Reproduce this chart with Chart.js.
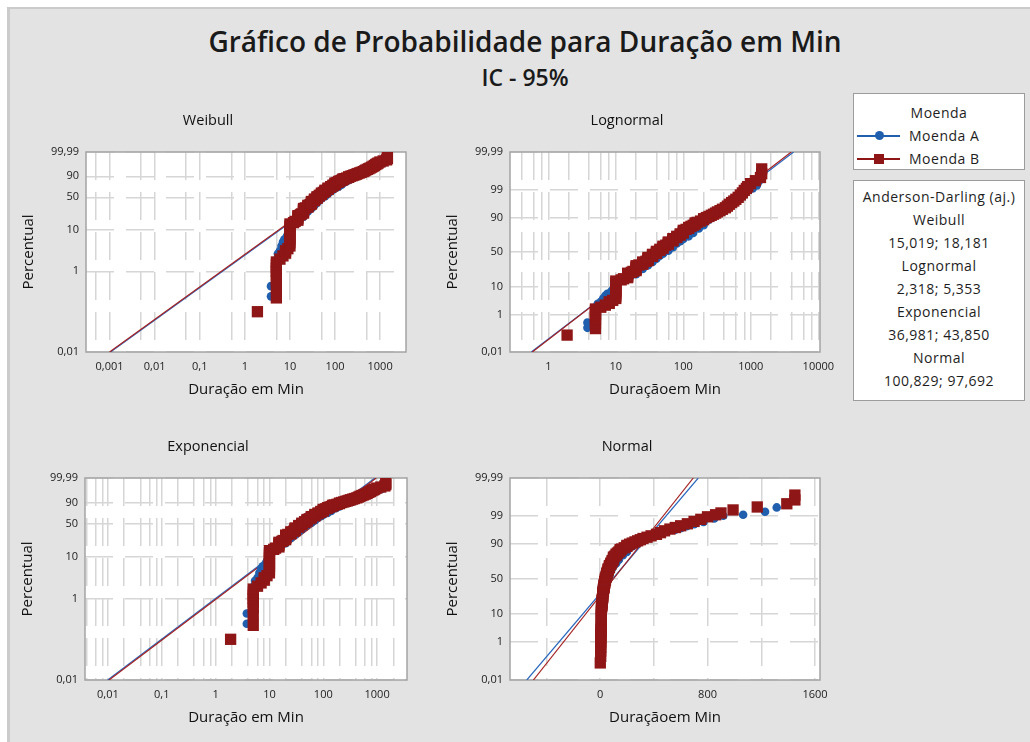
<!DOCTYPE html>
<html lang="pt">
<head>
<meta charset="utf-8">
<title>Gráfico de Probabilidade para Duração em Min</title>
<script src="https://cdn.jsdelivr.net/npm/chart.js@4/dist/chart.umd.min.js"></script>
<style>
  html, body { margin: 0; padding: 0; background: #fff; }
  body { width: 1030px; height: 742px; position: relative; overflow: hidden; font-family: 'Open Sans', sans-serif; }
  #frame { position: absolute; left: 7px; top: 7px; right: 0; bottom: 0; background: #e3e3e3;
           border-left: 3px solid #cbcbcb; border-top: 2px solid #cbcbcb; }
  canvas { position: absolute; }
  #title { position: absolute; left: 0; width: 1050px; top: 22px; text-align: center;
           font-size: 28px; line-height: 38px; font-weight: 600; color: #1a1a1a; }
  #subtitle { position: absolute; left: 0; width: 1050px; top: 62px; text-align: center;
              font-size: 23px; line-height: 30px; font-weight: 600; color: #1a1a1a; }
  .box { position: absolute; left: 853px; width: 172px; background: #fff; border: 1px solid #9c9c9c;
         font-size: 14px; letter-spacing: 0.5px; color: #1e1e1e; line-height: 23px; }
  #legendBox { top: 93px; height: 77px; padding-top: 7px; box-sizing: border-box; }
  #legendBox .head { text-align: center; }
  #legendBox .row { padding-left: 3px; white-space: nowrap; }
  #adBox { top: 180px; height: 221px; padding-top: 4px; box-sizing: border-box; text-align: center; }
  .key { position: relative; display: inline-block; width: 43px; height: 12px; margin-right: 9px; vertical-align: -1px; }
  .key::before { content: ''; position: absolute; left: 0; right: 0; top: 5px; height: 1.5px; background: currentColor; }
  .key::after { content: ''; position: absolute; left: 17px; top: 1px; width: 10px; height: 10px; background: currentColor; }
  .key-a { color: #1f5fae; }
  .key-a::after { border-radius: 50%; left: 18px; width: 9px; height: 9px; }
  .key-b { color: #8f1616; }
</style>
</head>
<body>
<div id="frame"></div>
<div id="title">Gráfico de Probabilidade para Duração em Min</div>
<div id="subtitle">IC - 95%</div>

<canvas id="weibull" width="410" height="310" style="left:10px; top:100px"></canvas>
<canvas id="lognormal" width="410" height="310" style="left:434px; top:100px"></canvas>
<canvas id="exponencial" width="410" height="312" style="left:9px; top:426px"></canvas>
<canvas id="normal" width="410" height="312" style="left:434px; top:426px"></canvas>

<div class="box" id="legendBox">
  <div class="head">Moenda</div>
  <div class="row"><span class="key key-a"></span>Moenda A</div>
  <div class="row"><span class="key key-b"></span>Moenda B</div>
</div>
<div class="box" id="adBox"></div>

<script>
// Stoppage durations (min) and plotting percentile of each one, per mill.
// Tied durations (5, 10, 15 ... min) stack up as vertical runs.
const moendaA_min = [3.8, 3.8, 5, 5, 5, 5, 5, 5.4, 6, 6.5, 7, 7.5, 8.5, 9,
  10, 10, 10, 10, 12, 15, 15, 15, 17, 20, 20, 20, 20, 25, 25, 25, 30, 30, 30, 35, 35, 35,
  40, 40, 40, 45, 45, 50, 50, 50, 60, 60, 60, 70, 70, 70, 80, 80, 90, 90, 100, 100,
  120, 120, 140, 140, 170, 200, 200, 240, 280, 330, 400, 450, 500, 560, 600, 645,
  700, 770, 850, 917, 1065, 1228, 1315];
const moendaA_pct = [0.24, 0.43, 0.65, 0.9, 1.2, 1.5, 1.9, 2.7, 3.2, 4.2, 5.2, 6.0, 7.0, 8.0,
  9, 10.5, 12, 13.5, 14.5, 15.5, 17, 18.5, 19.5, 20.5, 22, 23.5, 25, 26.5, 28, 29.5, 31, 32.5, 34, 35.5, 37, 38.5,
  40, 41.5, 43, 44.5, 46, 47.5, 49, 50.5, 52, 53.5, 55, 57, 59, 61, 62.5, 64, 65.5, 67, 68.5, 70,
  72, 74, 76, 78, 81, 84, 86, 88.5, 90.5, 92.5, 94.3, 95.2, 96, 96.5, 96.9, 97.4,
  97.8, 98.2, 98.7, 99.0, 99.1, 99.34, 99.58];

const moendaB_min = [1.9, 5, 5, 5, 5, 5, 5, 5, 5, 6, 7, 8, 8, 9,
  10, 10, 10, 10, 10, 10, 10, 10, 10, 12, 13, 15, 15, 15, 15, 17, 18, 20, 20, 20, 20, 20, 22,
  25, 25, 25, 28, 30, 30, 30, 30, 35, 35, 35, 40, 40, 40, 45, 45, 50, 50, 50, 55, 60, 60, 60,
  70, 70, 70, 80, 80, 90, 90, 100, 100, 100, 110, 120, 120, 130, 140, 150, 150, 160, 180, 200, 200,
  220, 240, 260, 280, 300, 320, 350, 380, 420, 450, 480, 520, 560, 600, 650, 700, 750, 800, 860,
  900, 990, 1170, 1390, 1450, 1450];
const moendaB_pct = [0.10, 0.22, 0.40, 0.60, 0.80, 1.0, 1.2, 1.45, 1.7, 2.0, 2.4, 2.8, 3.2, 3.6,
  4.2, 5.0, 6.0, 7.0, 8.2, 9.5, 11, 12.5, 14, 15, 16, 17, 18.5, 20, 21.5, 22.5, 23.5, 24.5, 26, 27.5, 29, 30.5, 31.5,
  32.5, 34, 35.5, 36.5, 37.5, 39, 40.5, 42, 43.5, 45, 46.5, 48, 49.5, 51, 52.5, 54, 55.5, 57, 58.5, 60, 61.5, 63, 64.5,
  66, 67.5, 69, 70.5, 72, 73.5, 75, 76, 77.5, 79, 80, 81, 82, 83, 84, 85, 86, 86.5, 87.5, 88.5, 89.2,
  90, 90.7, 91.4, 92, 92.6, 93.2, 93.8, 94.4, 95, 95.6, 96.2, 96.7, 97.1, 97.5, 97.9, 98.3, 98.6, 98.9, 99.1,
  99.25, 99.45, 99.6, 99.72, 99.82, 99.9];

// Fitted lines, end points as [duration] and [percentile]
const weibullFitA_min = [0.00105, 1500];
const weibullFitA_pct = [0.01, 99.99];
const weibullFitB_min = [0.001, 1400];
const weibullFitB_pct = [0.01, 99.99];
const lognormalFitA_min = [0.56, 4300];
const lognormalFitA_pct = [0.01, 99.99];
const lognormalFitB_min = [0.58, 3970];
const lognormalFitB_pct = [0.01, 99.99];
const exponencialFitA_min = [0.0099, 910];
const exponencialFitA_pct = [0.01, 99.99];
const exponencialFitB_min = [0.0105, 965];
const exponencialFitB_pct = [0.01, 99.99];
const normalFitA_min = [-545, 731];
const normalFitA_pct = [0.01, 99.99];
const normalFitB_min = [-496, 694];
const normalFitB_pct = [0.01, 99.99];

// Axis ticks
const weibullYTicks = [0.01, 1, 10, 50, 90, 99.99];
const normalYTicks = [0.01, 1, 10, 50, 90, 99, 99.99];
const weibullXTicks = [0.001, 0.01, 0.1, 1, 10, 100, 1000];
const weibullXGrid = [0.0005, 0.001, 0.005, 0.01, 0.05, 0.1, 0.5, 1, 5, 10, 50, 100, 500, 1000];
const lognormalXTicks = [1, 10, 100, 1000, 10000];
const lognormalXGrid = [0.4, 0.6, 0.8, 1, 2, 4, 6, 8, 10, 20, 40, 60, 80, 100, 200, 400, 600, 800, 1000,
  2000, 4000, 6000, 8000, 10000];
const exponencialXTicks = [0.01, 0.1, 1, 10, 100, 1000];
const exponencialXGrid = [0.004, 0.006, 0.008, 0.01, 0.02, 0.04, 0.06, 0.08, 0.1, 0.2, 0.4, 0.6, 0.8, 1, 2, 4,
  6, 8, 10, 20, 40, 60, 80, 100, 200, 400, 600, 800, 1000, 2000];
const normalXTicks = [0, 800, 1600];
const normalXGrid = [-400, 0, 400, 800, 1200, 1600];

// Anderson-Darling (adjusted) per distribution: Moenda A; Moenda B
const adDistributions = ['Weibull', 'Lognormal', 'Exponencial', 'Normal'];
const adMoendaA = ['15,019', '2,318', '36,981', '100,829'];
const adMoendaB = ['18,181', '5,353', '43,850', '97,692'];

const RED = '#8f1616';
const BLUE = '#1f5fae';
const FONT = "'Open Sans', sans-serif";

// Inverse of the standard normal CDF (Acklam)
function normInv(p) {
  const a = [-39.69683028665376, 220.9460984245205, -275.9285104469687, 138.3577518672690, -30.66479806614716, 2.506628277459239];
  const b = [-54.47609879822406, 161.5858368580409, -155.6989798598866, 66.80131188771972, -13.28068155288572];
  const c = [-0.007784894002430293, -0.3223964580411365, -2.400758277161838, -2.549732539343734, 4.374664141464968, 2.938163982698783];
  const d = [0.007784695709041462, 0.3224671290700398, 2.445134137142996, 3.754408661907416];
  const lo = 0.02425;
  let q, r;
  if (p < lo) {
    q = Math.sqrt(-2 * Math.log(p));
    return (((((c[0] * q + c[1]) * q + c[2]) * q + c[3]) * q + c[4]) * q + c[5]) / ((((d[0] * q + d[1]) * q + d[2]) * q + d[3]) * q + 1);
  }
  if (p <= 1 - lo) {
    q = p - 0.5; r = q * q;
    return (((((a[0] * r + a[1]) * r + a[2]) * r + a[3]) * r + a[4]) * r + a[5]) * q / (((((b[0] * r + b[1]) * r + b[2]) * r + b[3]) * r + b[4]) * r + 1);
  }
  q = Math.sqrt(-2 * Math.log(1 - p));
  return -(((((c[0] * q + c[1]) * q + c[2]) * q + c[3]) * q + c[4]) * q + c[5]) / ((((d[0] * q + d[1]) * q + d[2]) * q + d[3]) * q + 1);
}

// Probability paper: percent -> linear position
const PAPER = {
  weibull: p => Math.log(-Math.log(1 - p / 100)),
  normal: p => normInv(p / 100)
};

class ProbabilityScale extends Chart.Scale {
  static id = 'probability';
  static defaults = {};
  determineDataLimits() {
    this.min = this.options.min;
    this.max = this.options.max;
  }
  buildTicks() {
    return this.options.probTicks.map(v => ({ value: v }));
  }
  configure() {
    super.configure();
    const f = PAPER[this.options.paper];
    this._tStart = f(this.min);
    this._tRange = f(this.max) - this._tStart;
  }
  getLabelForValue(v) { return fmt(v); }
  getPixelForValue(v) {
    const f = PAPER[this.options.paper];
    return this.getPixelForDecimal((f(v) - this._tStart) / this._tRange);
  }
  getValueForPixel() { return null; }
}
Chart.register(ProbabilityScale);

function fmt(v) { return String(v).replace('.', ','); }
function pairs(xs, ys) { return xs.map((x, i) => ({ x: x, y: ys[i] })); }

// White plot area with a grey box around it
const plotFrame = {
  id: 'plotFrame',
  beforeDraw(chart) {
    const { ctx, chartArea: a } = chart;
    ctx.save();
    ctx.fillStyle = '#fff';
    ctx.fillRect(a.left, a.top, a.right - a.left, a.bottom - a.top);
    ctx.restore();
  },
  beforeDatasetsDraw(chart) {
    const { ctx, chartArea: a } = chart;
    ctx.save();
    ctx.strokeStyle = '#a4a4a4';
    ctx.lineWidth = 1.5;
    ctx.strokeRect(a.left, a.top, a.right - a.left, a.bottom - a.top);
    ctx.restore();
  }
};

function buildPanel(p) {
  const labelled = p.xTicks;
  return new Chart(document.getElementById(p.id), {
    type: 'scatter',
    data: {
      datasets: [
        { label: 'Moenda B', data: pairs(moendaB_min, moendaB_pct), pointStyle: 'rect', pointRadius: 8,
          backgroundColor: RED, borderWidth: 0, order: 1 },
        { label: 'Moenda A', data: pairs(moendaA_min, moendaA_pct), pointStyle: 'circle', pointRadius: 4.3,
          backgroundColor: BLUE, borderWidth: 0, order: 2 },
        { type: 'line', label: 'Ajuste B', data: pairs(p.fitB[0], p.fitB[1]), borderColor: '#a42222',
          borderWidth: 1.2, pointRadius: 0, order: 3 },
        { type: 'line', label: 'Ajuste A', data: pairs(p.fitA[0], p.fitA[1]), borderColor: '#2a68bd',
          borderWidth: 1.2, pointRadius: 0, order: 4 }
      ]
    },
    options: {
      responsive: false,
      animation: false,
      events: [],
      layout: { padding: { left: 0, right: p.padRight, top: 0, bottom: 0 } },
      plugins: {
        legend: { display: false },
        tooltip: { enabled: false },
        title: {
          display: true, text: p.title, color: '#111',
          font: { family: FONT, size: 14.5, weight: '400' },
          padding: { top: 12, bottom: 22.6 }
        }
      },
      scales: {
        x: {
          type: p.xType, min: p.xMin, max: p.xMax,
          afterBuildTicks: s => { s.ticks = p.xGrid.map(v => ({ value: v })); },
          afterFit: s => { s.height = 58; },
          ticks: {
            autoSkip: false, maxRotation: 0, padding: 8, color: '#222',
            font: { family: FONT, size: 11 },
            callback: v => labelled.some(t => Math.abs(t - v) <= Math.abs(t) * 1e-9) ? fmt(v) : ''
          },
          grid: { color: '#d6d6d6', lineWidth: 1.5, drawTicks: false },
          border: { display: false, dash: [28, 12] },
          title: {
            display: true, text: p.xTitle, color: '#111',
            font: { family: FONT, size: 15 }, padding: { top: 0, bottom: 11 }
          }
        },
        y: {
          type: 'probability', paper: p.paper, probTicks: p.yTicks, min: 0.01, max: 99.99,
          afterFit: s => { s.width = 76; },
          ticks: {
            autoSkip: false, padding: 7, color: '#222',
            font: { family: FONT, size: 11 },
            callback: v => fmt(v)
          },
          grid: { color: '#d6d6d6', lineWidth: 1.5, drawTicks: false },
          border: { display: false, dash: [28, 12] },
          title: {
            display: true, text: 'Percentual', color: '#111',
            font: { family: FONT, size: 15 }, padding: { top: 10, bottom: 0 }
          }
        }
      }
    },
    plugins: [plotFrame]
  });
}

const panels = [
  { id: 'weibull', title: 'Weibull', paper: 'weibull', yTicks: weibullYTicks, xTitle: 'Duração em Min',
    xType: 'logarithmic', xMin: 0.000322, xMax: 3750, xTicks: weibullXTicks, xGrid: weibullXGrid,
    fitA: [weibullFitA_min, weibullFitA_pct], fitB: [weibullFitB_min, weibullFitB_pct], padRight: 14 },
  { id: 'lognormal', title: 'Lognormal', paper: 'normal', yTicks: normalYTicks, xTitle: 'Duraçãoem Min',
    xType: 'logarithmic', xMin: 0.271, xMax: 10590, xTicks: lognormalXTicks, xGrid: lognormalXGrid,
    fitA: [lognormalFitA_min, lognormalFitA_pct], fitB: [lognormalFitB_min, lognormalFitB_pct], padRight: 24 },
  { id: 'exponencial', title: 'Exponencial', paper: 'weibull', yTicks: weibullYTicks, xTitle: 'Duração em Min',
    xType: 'logarithmic', xMin: 0.00375, xMax: 3590, xTicks: exponencialXTicks, xGrid: exponencialXGrid,
    fitA: [exponencialFitA_min, exponencialFitA_pct], fitB: [exponencialFitB_min, exponencialFitB_pct], padRight: 12 },
  { id: 'normal', title: 'Normal', paper: 'normal', yTicks: normalYTicks, xTitle: 'Duraçãoem Min',
    xType: 'linear', xMin: -670, xMax: 1637, xTicks: normalXTicks, xGrid: normalXGrid,
    fitA: [normalFitA_min, normalFitA_pct], fitB: [normalFitB_min, normalFitB_pct], padRight: 24 }
];
panels.forEach(buildPanel);

// Anderson-Darling box
const adBox = document.getElementById('adBox');
const adLines = ['Anderson-Darling (aj.)'];
adDistributions.forEach((name, i) => {
  adLines.push(name);
  adLines.push(adMoendaA[i] + '; ' + adMoendaB[i]);
});
adBox.innerHTML = adLines.map(t => '<div>' + t + '</div>').join('');
</script>
</body>
</html>
